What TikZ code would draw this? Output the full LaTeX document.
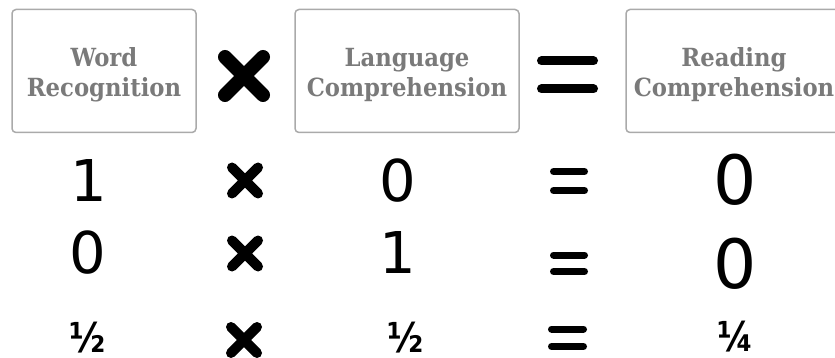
\documentclass[tikz,border=0pt]{standalone}
\usepackage{fontspec}
\newfontfamily\hdrfont{DejaVu Serif}
\newfontfamily\digfont{DejaVu Sans}
\definecolor{hdrgray}{HTML}{7A7A7A}
\definecolor{boxgray}{HTML}{AAAAAA}
\newcommand{\hsq}[1]{\scalebox{0.91}[1]{#1}}
\newcommand{\fsq}[1]{\scalebox{0.85}[1]{#1}}
\begin{document}
\begin{tikzpicture}[x=1pt,y=-1pt,
  hbox/.style={draw=boxgray,line width=1.5pt,rounded corners=4pt},
  hdr/.style={anchor=base,inner sep=0pt,align=center,text=hdrgray,
    font=\hdrfont\bfseries\fontsize{25}{30}\selectfont},
  dig/.style={anchor=base,inner sep=0pt,font=\digfont\fontsize{57.6}{60}\selectfont},
  bigdig/.style={anchor=base,inner sep=0pt,font=\digfont\fontsize{68}{70}\selectfont},
  frac/.style={anchor=base,inner sep=0pt,font=\digfont\bfseries\fontsize{41}{43}\selectfont},
  bigx/.style={line width=14pt,line cap=round},
  smallx/.style={line width=10pt,line cap=round},
  bigeq/.style={line width=9pt,line cap=round},
  smalleq/.style={line width=7pt,line cap=round}]
\useasboundingbox (0,0) rectangle (835,358);
% header boxes
\draw[hbox] (12,9.5) rectangle (196,132.5);
\draw[hbox] (295,9.5) rectangle (519,132.5);
\draw[hbox] (626,9.5) rectangle (860,132.5);
\node[hdr] (h1) at (104,97) {\hsq{Word}\\\hsq{Recognition}};
\node[hdr] (h2) at (407,97) {\hsq{Language}\\\hsq{Comprehension}};
\node[hdr] (h3) at (734,97) {\hsq{Reading}\\\hsq{Comprehension}};
% big operators
\draw[bigx] (225,57) -- (263,95) (225,95) -- (263,57);
\draw[bigeq] (541.5,61) -- (593.5,61) (541.5,89) -- (593.5,89);
% rows: multiplication signs
\draw[smallx] (232,167.5) -- (258,193.5) (232,193.5) -- (258,167.5);
\draw[smallx] (232,240.5) -- (258,266.5) (232,266.5) -- (258,240.5);
\draw[smallx] (231,327) -- (257,353) (231,353) -- (257,327);
% rows: equals signs
\draw[smalleq] (553.5,171.5) -- (584.5,171.5) (553.5,190.5) -- (584.5,190.5);
\draw[smalleq] (553.5,255) -- (584.5,255) (553.5,271.5) -- (584.5,271.5);
\draw[smalleq] (551.5,329) -- (583.5,329) (551.5,346.5) -- (583.5,346.5);
% row 1
\node[dig] (r1a) at (89,202) {1};
\node[dig] (r1b) at (397.5,202) {0};
\node[bigdig] (r1c) at (735,205) {0};
% row 2
\node[dig] (r2a) at (87.5,273) {0};
\node[dig] (r2b) at (397.5,273) {1};
\node[bigdig] (r2c) at (735,288) {0};
% row 3
\node[frac] (r3a) at (87.5,352) {\fsq{½}};
\node[frac] (r3b) at (406,352) {\fsq{½}};
\node[frac] (r3c) at (736,351) {\fsq{¼}};
\end{tikzpicture}
\end{document}
